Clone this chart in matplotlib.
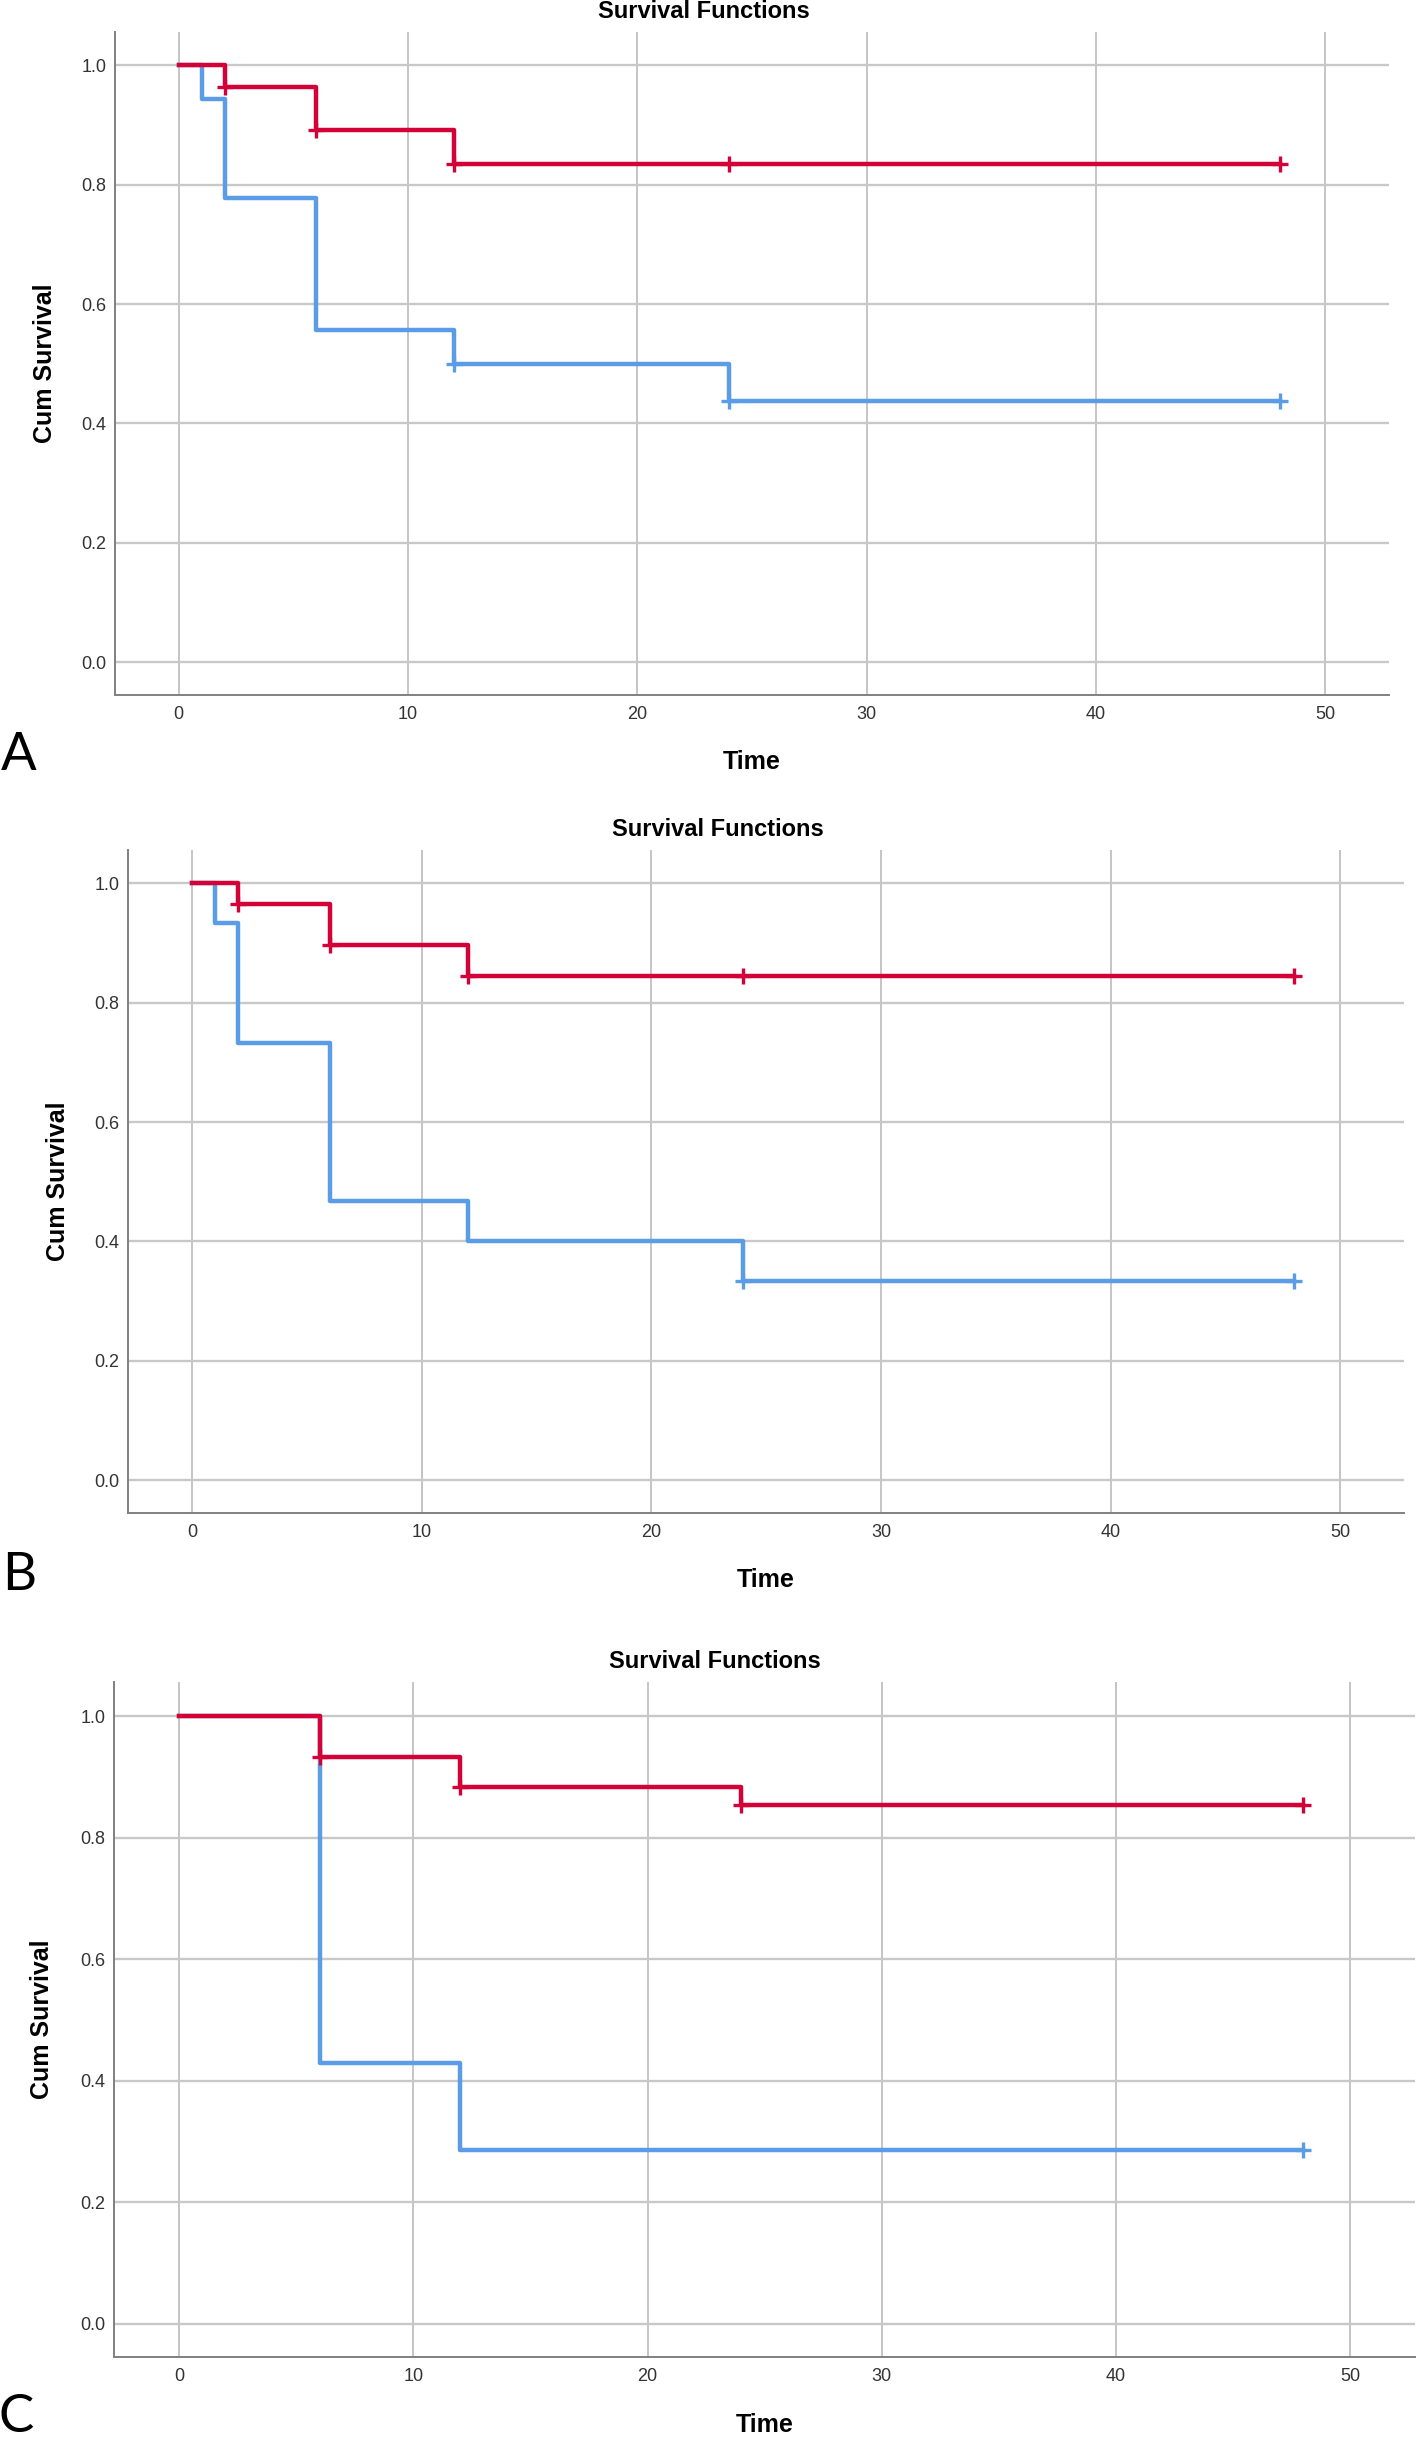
import numpy as np
import matplotlib
matplotlib.use("Agg")
import matplotlib.pyplot as plt

plt.rcParams['font.family'] = ['Liberation Sans', 'DejaVu Sans']

# Data: Kaplan-Meier step curves
# Panel A
a_red_t = [0, 2, 6, 12, 48]
a_red_s = [1.0, 0.964, 0.892, 0.835, 0.835]
a_red_cens = [2, 6, 12, 24, 48]
a_blue_t = [0, 1, 2, 6, 12, 24, 48]
a_blue_s = [1.0, 0.944, 0.778, 0.556, 0.5, 0.4375, 0.4375]
a_blue_cens = [12, 24, 48]

# Panel B
b_red_t = [0, 2, 6, 12, 48]
b_red_s = [1.0, 0.966, 0.897, 0.845, 0.845]
b_red_cens = [2, 6, 12, 24, 48]
b_blue_t = [0, 1, 2, 6, 12, 24, 48]
b_blue_s = [1.0, 0.933, 0.733, 0.467, 0.4, 0.333, 0.333]
b_blue_cens = [24, 48]

# Panel C
c_red_t = [0, 6, 12, 24, 48]
c_red_s = [1.0, 0.933, 0.884, 0.853, 0.853]
c_red_cens = [6, 12, 24, 48]
c_blue_t = [0, 6, 12, 48]
c_blue_s = [1.0, 0.4286, 0.2857, 0.2857]
c_blue_cens = [48]

letters = ['A', 'B', 'C']
x_ticks = [0, 10, 20, 30, 40, 50]
y_ticks = [0.0, 0.2, 0.4, 0.6, 0.8, 1.0]

RED = '#d40038'
BLUE = '#5b9ce6'

W, H = 1416, 2438
fig = plt.figure(figsize=(W / 100, H / 100), dpi=100)

# axes boxes in pixels: left, top, right, bottom
boxes = [(115, 32, 1389, 695), (128, 850, 1404, 1513), (114, 1682, 1415, 2357)]
letter_pos = [(19, 755), (19, 1575), (16, 2417)]

panels = [
    ((a_blue_t, a_blue_s, a_blue_cens), (a_red_t, a_red_s, a_red_cens)),
    ((b_blue_t, b_blue_s, b_blue_cens), (b_red_t, b_red_s, b_red_cens)),
    ((c_blue_t, c_blue_s, c_blue_cens), (c_red_t, c_red_s, c_red_cens)),
]


def level_at(t, s, c):
    t = np.asarray(t)
    idx = np.searchsorted(t, c, side='right') - 1
    return np.asarray(s)[idx]


for (l, t, r, b), letter, lp, curves in zip(boxes, letters, letter_pos, panels):
    ax = fig.add_axes([l / W, 1 - b / H, (r - l) / W, (b - t) / H])
    ax.set_xlim(-2.78, 52.77)
    ax.set_ylim(-0.055, 1.056)

    for (times, surv, cens), col in zip(curves, [BLUE, RED]):
        ax.step(times, surv, where='post', color=col, lw=3.2, zorder=3)
        ax.plot(cens, level_at(times, surv, cens), ls='none', marker='+',
                ms=12, mew=2.4, color=col, zorder=4)

    ax.set_xticks(x_ticks)
    ax.set_yticks(y_ticks)
    ax.set_yticklabels([f'{v:.1f}' for v in y_ticks])
    ax.tick_params(axis='both', length=0, labelsize=13, colors='#333333')
    ax.tick_params(axis='x', pad=8)
    ax.tick_params(axis='y', pad=6)
    ax.xaxis.grid(True, color='#bbbbbb', lw=1.2)
    ax.yaxis.grid(True, color='#c8c8c8', lw=1.7)
    ax.set_axisbelow(True)
    for side in ['top', 'right']:
        ax.spines[side].set_visible(False)
    for side in ['left', 'bottom']:
        ax.spines[side].set_color('#808080')
        ax.spines[side].set_linewidth(1.4)

    ax.set_title('Survival Functions', fontsize=17, fontweight='bold',
                 x=0.462, y=1.008, va='baseline')
    ax.set_ylabel('Cum Survival', fontsize=18, fontweight='bold')
    ax.yaxis.set_label_coords(-0.055, 0.5)
    ax.set_xlabel('Time', fontsize=18, fontweight='bold')
    ax.xaxis.set_label_coords(0.5, -0.101)
    ax.xaxis.label.set_va('center')
    ax.yaxis.label.set_va('center')

    fig.text(lp[0] / W, 1 - lp[1] / H, letter, fontsize=38, family=['Lato', 'DejaVu Sans'],
             ha='center', va='center')

fig.savefig('out.png', dpi=100)
